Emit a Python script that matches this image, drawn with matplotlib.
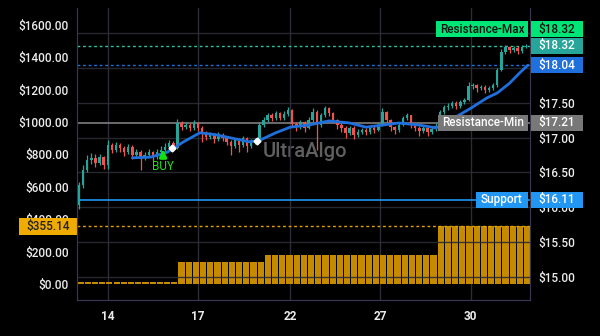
import numpy as np
import matplotlib.pyplot as plt
from matplotlib.patches import Rectangle
from matplotlib.transforms import blended_transform_factory

plt.rcParams['font.family'] = ['Roboto', 'DejaVu Sans']

# hourly candles (price, right axis)
first_open = 16.03
close = [16.32, 16.54, 16.68, 16.71, 16.64, 16.72, 16.61, 16.89, 16.82, 16.89,
         16.85, 16.79, 16.87, 16.75, 16.79, 16.71, 16.75, 16.79, 16.72, 16.79,
         16.82, 16.87, 16.92, 16.85, 17.21, 17.15, 17.18, 17.14, 17.21, 17.14,
         17.07, 17.01, 17.04, 16.98, 17.04, 16.99, 16.94, 16.88, 16.97, 16.89,
         16.99, 16.88, 16.94, 16.97, 17.18, 17.25, 17.32, 17.28, 17.35, 17.28,
         17.34, 17.40, 17.20, 17.15, 17.22, 17.14, 17.25, 17.37, 17.18, 17.32,
         17.42, 17.35, 17.25, 17.18, 17.14, 17.07, 17.14, 17.04, 17.08, 17.11,
         17.08, 17.14, 17.11, 17.18, 17.37, 17.25, 17.15, 17.11, 17.18, 17.28,
         17.32, 17.18, 17.14, 17.09, 17.14, 17.08, 17.12, 17.17, 17.37, 17.44,
         17.45, 17.50, 17.45, 17.51, 17.54, 17.74, 17.75, 17.71, 17.73, 17.68,
         17.71, 17.75, 17.97, 18.23, 18.30, 18.26, 18.29, 18.24, 18.30, 18.32]
high = [16.36, 16.60, 16.75, 16.78, 16.76, 16.77, 16.74, 16.97, 16.93, 16.94,
        16.92, 16.88, 16.91, 16.89, 16.83, 16.82, 16.79, 16.84, 16.81, 16.83,
        16.88, 16.92, 16.96, 16.95, 17.27, 17.24, 17.22, 17.21, 17.25, 17.23,
        17.17, 17.10, 17.08, 17.06, 17.08, 17.07, 17.02, 16.97, 17.00, 16.99,
        17.03, 17.01, 16.98, 17.00, 17.22, 17.29, 17.36, 17.35, 17.38, 17.37,
        17.38, 17.44, 17.41, 17.23, 17.26, 17.24, 17.29, 17.42, 17.39, 17.36,
        17.46, 17.44, 17.37, 17.27, 17.21, 17.16, 17.17, 17.16, 17.12, 17.14,
        17.14, 17.17, 17.16, 17.21, 17.42, 17.38, 17.27, 17.17, 17.21, 17.31,
        17.35, 17.33, 17.20, 17.16, 17.17, 17.16, 17.15, 17.21, 17.40, 17.47,
        17.49, 17.53, 17.52, 17.54, 17.57, 17.80, 17.79, 17.77, 17.76, 17.75,
        17.74, 17.78, 18.00, 18.27, 18.33, 18.32, 18.32, 18.31, 18.33, 18.34]
low = [15.98, 16.28, 16.50, 16.62, 16.58, 16.60, 16.55, 16.55, 16.78, 16.79,
       16.80, 16.74, 16.76, 16.70, 16.72, 16.54, 16.68, 16.72, 16.66, 16.70,
       16.76, 16.79, 16.83, 16.81, 16.83, 17.11, 17.12, 17.10, 17.11, 17.10,
       16.94, 16.97, 16.98, 16.93, 16.95, 16.95, 16.90, 16.75, 16.85, 16.80,
       16.86, 16.79, 16.85, 16.91, 16.95, 17.15, 17.22, 17.24, 17.25, 17.25,
       17.26, 17.31, 17.15, 17.10, 17.12, 17.08, 17.12, 17.23, 16.82, 17.15,
       17.30, 17.31, 17.21, 17.13, 17.08, 17.00, 17.04, 16.98, 17.01, 17.05,
       17.04, 17.05, 17.07, 17.09, 17.16, 17.21, 17.10, 17.05, 17.08, 17.16,
       17.25, 17.14, 17.09, 17.02, 17.06, 17.03, 17.05, 17.10, 17.15, 17.34,
       17.40, 17.42, 17.41, 17.43, 17.48, 17.52, 17.70, 17.66, 17.68, 17.64,
       17.65, 17.68, 17.72, 17.95, 18.20, 18.21, 18.23, 18.20, 18.22, 18.28]

# moving average (sampled along the curve)
ma_x = [13, 17.5, 21.5, 25.5, 29.5, 33.5, 37.5, 41.5, 44, 48, 51.5, 56, 61, 66,
        70, 74, 78, 83, 87, 90, 92, 95.5, 99.5, 102, 105, 107.5, 109.5]
ma_y = [16.71, 16.72, 16.79, 16.94, 17.07, 17.04, 16.99, 16.94, 16.96, 17.07,
        17.15, 17.18, 17.24, 17.21, 17.15, 17.18, 17.21, 17.18, 17.14, 17.22,
        17.30, 17.42, 17.57, 17.64, 17.78, 17.93, 18.04]

# position size in $ (left axis)
equity = [13, 13, 13, 13, 13, 13, 13, 13, 13, 13, 13, 13, 13, 13,
          136, 136, 136, 136, 136, 136, 136, 136, 136, 136, 136, 136,
          179, 179, 179, 179, 179, 179, 179, 179, 179, 179, 179, 179,
          179, 179, 179, 179, 179, 179, 179, 179, 179, 179, 179, 179,
          355.14, 355.14, 355.14, 355.14, 355.14, 355.14, 355.14, 355.14,
          355.14, 355.14, 355.14, 355.14, 355.14]

buy_x, buy_y = [20.5], [16.87]
exit_x, exit_y = [22.7, 43.4], [16.85, 16.95]

res_max = 18.32
last_price = 18.32
ma_last = 18.04
res_min = 17.21
support = 16.11
stake = 355.14

day_pos = [7.0, 29.0, 51.5, 73.5, 95.5]
day_lab = ['14', '17', '22', '27', '30']

up_c, dn_c = '#26a69a', '#ef5350'
grid_c = '#2c2c34'
spine_c = '#3a3550'
txt_c = '#ececec'

fig = plt.figure(figsize=(6, 3.36), dpi=100, facecolor='black')
ax = fig.add_axes([77/600, 36/336, 453/600, 292/336])
ax.set_facecolor('black')
ax.set_xlim(-0.5, 110.0)
ax.set_ylim(-99, 1704)

bar_x = np.linspace(0.38, 109.3, len(equity))
ax.bar(bar_x, equity, width=1.5, color='#c48a00', zorder=1)
ax.axhline(stake, color='#e2a400', lw=1, ls=(0, (2, 2)), zorder=2)

ax.set_yticks(np.arange(0, 1601, 200))
ax.set_yticklabels(['$%.2f' % v for v in np.arange(0, 1601, 200)], fontweight='medium')
ax.set_xticks(day_pos)
ax.set_xticklabels(day_lab, fontweight='bold')
ax.tick_params(axis='y', colors=txt_c, length=0, pad=6, labelsize=8.5)
ax.tick_params(axis='x', colors=txt_c, length=0, pad=7, labelsize=8.5)
ax.grid(axis='x', color=grid_c, lw=1)
ax.set_axisbelow(True)
for s in ['left', 'bottom', 'right']:
    ax.spines[s].set_color(spine_c)
ax.spines['top'].set_visible(False)

ax.text(0.503, 0.51, 'UltraAlgo', transform=ax.transAxes, color='#5f5f5f',
        fontsize=14.5, fontweight='medium', ha='center', va='center', zorder=0)

axp = ax.twinx()
axp.set_ylim(14.67, 18.86)
pticks = np.arange(15.0, 18.51, 0.5)
# 18.00 and 18.50 sit under the level tags, as in the reference
plabels = ['' if v >= 18.0 else '$%.2f' % v for v in pticks]
axp.set_yticks(pticks)
axp.set_yticklabels(plabels, fontweight='medium')
axp.tick_params(axis='y', colors=txt_c, length=0, pad=6, labelsize=8.5)
axp.grid(axis='y', color=grid_c, lw=1, alpha=0.9)
axp.set_axisbelow(True)
for s in ['left', 'bottom', 'right']:
    axp.spines[s].set_color(spine_c)
axp.spines['top'].set_visible(False)

# candles
x = np.arange(len(close))
opens = np.array([first_open] + close[:-1])
cl = np.array(close)
cols = [up_c if c >= o else dn_c for o, c in zip(opens, cl)]
axp.vlines(x, low, high, colors=cols, lw=0.9, zorder=3)
body = np.maximum(np.abs(cl - opens), 0.012)
axp.bar(x, body, bottom=np.minimum(opens, cl), width=0.6, color=cols, zorder=3)

axp.plot(ma_x, ma_y, color='#1f6fdc', lw=2, zorder=4, solid_capstyle='round')

# levels
axp.axhline(res_max, color='#2fc49c', lw=1, ls=(0, (2, 2)), zorder=2)
axp.axhline(ma_last, color='#1f6fdc', lw=1, ls=(0, (2, 2)), zorder=2)
axp.axhline(res_min, color='#7e7e7e', lw=1.2, zorder=2)
axp.axhline(support, color='#2196f3', lw=1.2, zorder=2)

# signals
axp.annotate('', xy=(buy_x[0], buy_y[0]), xytext=(0, -8), textcoords='offset points',
             arrowprops=dict(arrowstyle='-|>', color='#11e011', lw=2.4, mutation_scale=9),
             zorder=6)
axp.annotate('BUY', xy=(buy_x[0], buy_y[0]), xytext=(0, -14), textcoords='offset points',
             ha='center', va='center', color='#1de21d', fontsize=8.5, zorder=6)
axp.plot(exit_x, exit_y, 'D', color='white', ms=3.5, zorder=6)


def tag(axis, x0, w, yc, h, text, fc, tc):
    tr = blended_transform_factory(axis.transAxes, axis.transData)
    axis.add_patch(Rectangle((x0, yc - h / 2), w, h, transform=tr, facecolor=fc,
                             edgecolor='none', clip_on=False, zorder=10))
    axis.text(x0 + w / 2, yc, text, transform=tr, ha='center', va='center',
              color=tc, fontsize=8.5, fontweight='medium', clip_on=False, zorder=11)


h = 16 / 69.7
rx, rw = 1.0 + 1 / 453, 52 / 453
top_y = res_max + 1.03 * h
tag(axp, 359 / 453, 92 / 453, top_y, h, 'Resistance-Max', '#00e676', '#111111')
tag(axp, rx, rw, top_y, h, '$%.2f' % res_max, '#00e676', '#111111')
tag(axp, rx, rw, last_price, h, '$%.2f' % last_price, '#26a69a', 'white')
tag(axp, rx, rw, ma_last, h, '$%.2f' % ma_last, '#1f6fdc', 'white')
tag(axp, 361 / 453, 90 / 453, res_min, h, 'Resistance-Min', '#787878', 'white')
tag(axp, rx, rw, res_min, h, '$%.2f' % res_min, '#787878', 'white')
tag(axp, 399 / 453, 52 / 453, support, h, 'Support', '#2196f3', 'white')
tag(axp, rx, rw, support, h, '$%.2f' % support, '#2196f3', 'white')
tag(ax, -58 / 453, 59 / 453, stake, 17 * 1803 / 292, '$%.2f' % stake, '#f0ab00', '#222222')

fig.savefig('out.png', dpi=100, facecolor='black')
